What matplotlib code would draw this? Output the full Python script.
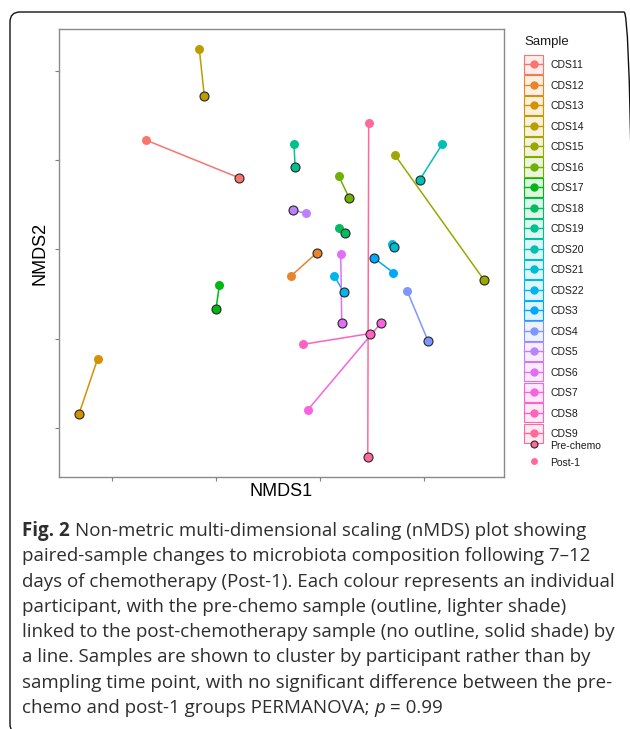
import numpy as np
import matplotlib.pyplot as plt
from matplotlib.lines import Line2D
from matplotlib.patches import Rectangle, FancyBboxPatch
from matplotlib.legend_handler import HandlerLine2D
from matplotlib.transforms import IdentityTransform
from matplotlib.colors import to_rgba

# nMDS coordinates (arbitrary NMDS units)
samples = ["CDS11", "CDS12", "CDS13", "CDS14", "CDS15", "CDS16", "CDS17",
           "CDS18", "CDS19", "CDS20", "CDS21", "CDS22", "CDS3", "CDS4",
           "CDS5", "CDS6", "CDS7", "CDS8", "CDS9"]
pre_x = [-0.0782, -0.0032, -0.2317, -0.1113, 0.1577, 0.0279, -0.1000,
         0.0240, -0.0240, 0.0959, 0.0709, 0.0228, 0.0519, 0.1038,
         -0.0263, 0.0209, 0.0588, 0.0478, 0.0459]
pre_y = [0.0802, -0.0041, -0.1841, 0.1720, -0.0344, 0.0578, -0.0665,
         0.0179, 0.0918, 0.0779, 0.0022, -0.0482, -0.0097, -0.1024,
         0.0440, -0.0822, -0.0822, -0.0944, -0.2324]
post_x = [-0.1670, -0.0282, -0.2138, -0.1161, 0.0718, 0.0180, -0.0968,
          0.0180, -0.0250, 0.1176, 0.0689, 0.0138, 0.0705, 0.0837,
          -0.0132, 0.0199, -0.0120, -0.0162, 0.0468]
post_y = [0.1221, -0.0302, -0.1225, 0.2243, 0.1059, 0.0821, -0.0403,
          0.0239, 0.1179, 0.1179, 0.0059, -0.0299, -0.0262, -0.0464,
          0.0401, -0.0058, -0.1802, -0.1064, 0.1418]

caption = [
    "Non-metric multi-dimensional scaling (nMDS) plot showing",
    "paired-sample changes to microbiota composition following 7\u201312",
    "days of chemotherapy (Post-1). Each colour represents an individual",
    "participant, with the pre-chemo sample (outline, lighter shade)",
    "linked to the post-chemotherapy sample (no outline, solid shade) by",
    "a line. Samples are shown to cluster by participant rather than by",
    "sampling time point, with no significant difference between the pre-",
    "chemo and post-1 groups PERMANOVA;",
]


def hcl_hex(h, c=100.0, l=65.0):
    # ggplot2 default hue palette (polar LUV -> sRGB)
    xn, yn, zn = 95.047, 100.0, 108.883
    u = c * np.cos(np.deg2rad(h))
    v = c * np.sin(np.deg2rad(h))
    y = yn * ((l + 16) / 116) ** 3
    den = xn + 15 * yn + 3 * zn
    uu = u / (13 * l) + 4 * xn / den
    vv = v / (13 * l) + 9 * yn / den
    x = 9 * y * uu / (4 * vv)
    z = -x / 3 - 5 * y + 3 * y / vv
    x, y, z = x / 100, y / 100, z / 100
    rgb = np.array([3.240479 * x - 1.537150 * y - 0.498535 * z,
                    -0.969256 * x + 1.875992 * y + 0.041556 * z,
                    0.055648 * x - 0.204043 * y + 1.057311 * z])
    rgb = np.where(rgb > 0.00304, 1.055 * np.abs(rgb) ** (1 / 2.4) - 0.055, 12.92 * rgb)
    return tuple(np.clip(rgb, 0, 1))


n = len(samples)
hues = np.linspace(15, 375, n + 1)[:n]
colors = [hcl_hex(h) for h in hues]

W, H = 630, 729
fig = plt.figure(figsize=(W / 100, H / 100), dpi=100)
ax = fig.add_axes([59 / W, 1 - 477 / H, 445 / W, 448 / H])

for i in range(n):
    c = colors[i]
    ax.plot([pre_x[i], post_x[i]], [pre_y[i], post_y[i]], color=c, lw=1.1, zorder=2)
    ax.scatter(post_x[i], post_y[i], s=42, color=c, lw=0, zorder=3)
    ax.scatter(pre_x[i], pre_y[i], s=42, color=c, edgecolors="#262626", linewidths=0.8, zorder=4)

ax.set_xlim(-0.251, 0.1769)
ax.set_ylim(-0.255, 0.2467)
ax.set_xticks([-0.2, -0.1, 0.0, 0.1])
ax.set_yticks([-0.2, -0.1, 0.0, 0.1, 0.2])
ax.set_xticklabels([])
ax.set_yticklabels([])
ax.tick_params(direction="out", length=3, width=0.8, color="#7f7f7f")
for sp in ax.spines.values():
    sp.set_color("#8a8a8a")
    sp.set_linewidth(1.0)

ax.set_xlabel("NMDS1", fontsize=13, family="Liberation Sans", va="center")
ax.xaxis.set_label_coords(0.5, (477 - 491) / 448)
ax.set_ylabel("NMDS2", fontsize=13, family="Liberation Sans", va="center")
ax.yaxis.set_label_coords((40 - 59) / 445, 0.5)


class BoxedHandler(HandlerLine2D):
    # ggplot-style key: tinted square with a line and a dot, centred on the label
    def create_artists(self, legend, orig_handle, xdescent, ydescent,
                       width, height, fontsize, trans):
        c = orig_handle.get_color()
        yc = 0.36 * fontsize
        box = Rectangle((-xdescent, yc - width / 2), width, width,
                        fc=to_rgba(c, 0.13), ec=c, lw=0.8, transform=trans)
        line = Line2D([-xdescent, -xdescent + width / 2, -xdescent + width],
                      [yc, yc, yc], markevery=[1])
        self.update_prop(line, orig_handle, legend)
        line.set_transform(trans)
        return [box, line]


legend_font = {"family": "Liberation Sans", "size": 7.5}
handles = [Line2D([0], [0], color=c, lw=1.0, marker="o", markersize=5) for c in colors]
leg1 = fig.legend(handles, samples, loc="upper left",
                  bbox_to_anchor=(524 / W, 1 - 57.3 / H),
                  handler_map={Line2D: BoxedHandler()}, frameon=False,
                  numpoints=1, handlelength=1.85, handleheight=1.85,
                  labelspacing=0.52, handletextpad=0.7, borderpad=0,
                  borderaxespad=0, prop=legend_font)
for t in leg1.get_texts():
    t.set_color("#1a1a1a")
fig.text(524 / W, 1 - 42 / H, "Sample", ha="left", va="center",
         family="Liberation Sans", size=9.5, color="#1a1a1a")

shape_handles = [
    Line2D([0], [0], ls="none", marker="o", markersize=5, mfc=colors[-1],
           mec="#262626", mew=0.8),
    Line2D([0], [0], ls="none", marker="o", markersize=5, mfc=colors[-1], mew=0),
]
leg2 = fig.legend(shape_handles, ["Pre-chemo", "Post-1"], loc="upper left",
                  bbox_to_anchor=(524 / W, 1 - 439.3 / H), frameon=False,
                  numpoints=1, handlelength=1.85, handleheight=1.4,
                  labelspacing=0.5, handletextpad=0.7, borderpad=0,
                  borderaxespad=0, prop=legend_font)
for t in leg2.get_texts():
    t.set_color("#1a1a1a")

# rounded frame round the whole figure
frame = FancyBboxPatch((10, -5), 624, 722, boxstyle="round,pad=0,rounding_size=10",
                       fc="none", ec="#111111", lw=1.0, transform=IdentityTransform())
fig.patches.append(frame)

# caption, line by line
renderer = fig.canvas.get_renderer()
cap_font = "Open Sans"
cap_color = "#2e2e2e"


def text_width(s, **kw):
    t = fig.text(0, 0, s, **kw)
    w = t.get_window_extent(renderer).width
    t.remove()
    return w


probe = text_width("Fig. 2", family=cap_font, size=10, weight="bold") + \
    text_width("a " + caption[0], family=cap_font, size=10) - text_width("a", family=cap_font, size=10)
cap_size = 10 * 564 / probe
space = text_width("a a", family=cap_font, size=cap_size) - text_width("aa", family=cap_font, size=cap_size)

x0, y0, dy = 22, 536, 25.3
for k, line in enumerate(caption):
    y = 1 - (y0 + k * dy) / H
    x = x0
    if k == 0:
        fig.text(x / W, y, "Fig. 2", family=cap_font, size=cap_size, weight="bold",
                 color=cap_color, va="baseline")
        x += text_width("Fig. 2", family=cap_font, size=cap_size, weight="bold") + space
    fig.text(x / W, y, line, family=cap_font, size=cap_size, color=cap_color, va="baseline")
    if k == len(caption) - 1:
        x += text_width(line, family=cap_font, size=cap_size) + space
        fig.text(x / W, y, "p", family=cap_font, size=cap_size, style="italic",
                 color=cap_color, va="baseline")
        x += text_width("p", family=cap_font, size=cap_size, style="italic") + space
        fig.text(x / W, y, "= 0.99", family=cap_font, size=cap_size, color=cap_color,
                 va="baseline")

fig.savefig("out.png", dpi=100, facecolor="white")
